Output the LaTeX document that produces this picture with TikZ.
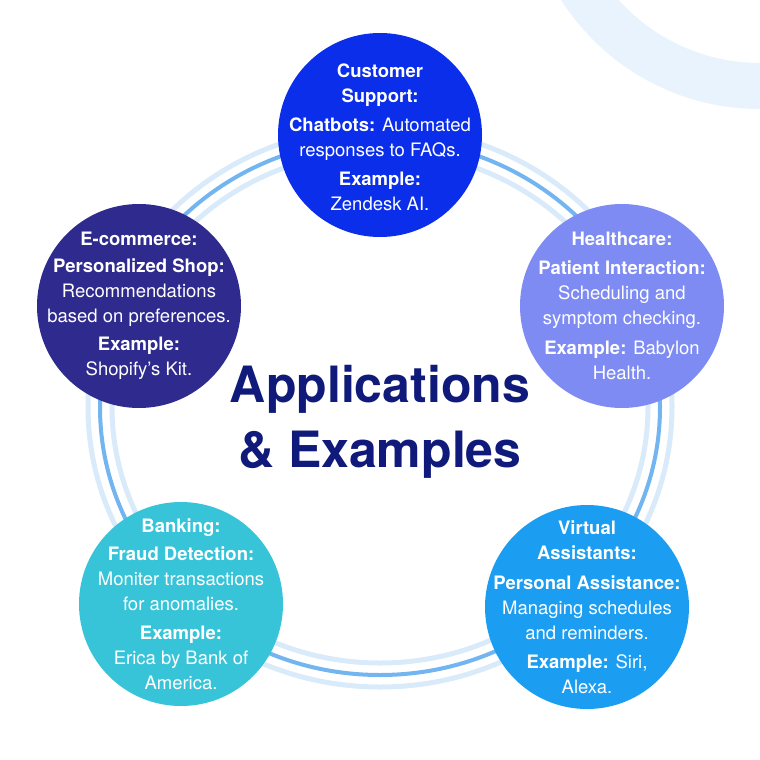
\documentclass[tikz,border=0pt]{standalone}
\usepackage{fontspec}
\setmainfont{TeX Gyre Heros}
\definecolor{cscol}{HTML}{0A2EEA}
\definecolor{eccol}{HTML}{2F2A8E}
\definecolor{hccol}{HTML}{7E8BF3}
\definecolor{bkcol}{HTML}{37C4D8}
\definecolor{vacol}{HTML}{1B9DF1}
\definecolor{titlecol}{HTML}{0F1A7A}
\definecolor{ringdark}{HTML}{72B5F1}
\definecolor{ringlight}{HTML}{D9EBFB}
\definecolor{decocol}{HTML}{E8F3FD}
\begin{document}
\begin{tikzpicture}[x=1pt,y=-1pt,
  bubble/.style={circle, minimum size=204pt, inner sep=0pt},
  btext/.style={text=white, align=center, inner sep=0pt, font=\fontsize{18.5}{25}\selectfont},
  lightring/.style={draw=ringlight, line width=5pt},
  darkring/.style={draw=ringdark, line width=4pt},
  titletext/.style={text=titlecol, align=center, inner sep=0pt, font=\bfseries\fontsize{50}{65}\selectfont}]
\fill[white] (0,0) rectangle (760,760);
\useasboundingbox (0,0) rectangle (760,760);
\begin{scope}
  \clip (0,0) rectangle (760,760);
  \draw[decocol, line width=46pt] (760,-127) circle[radius=213];
\end{scope}
% rings
\draw[lightring] (380,407) ellipse[x radius=292, y radius=280];
\draw[darkring] (380,407) ellipse[x radius=280, y radius=268];
\draw[lightring] (380,407) ellipse[x radius=268, y radius=256];
% title
\node[titletext] (title) at (380,422) {Applications\\\& Examples};
% bubbles
\node[bubble, fill=cscol] (cs) at (380,135) {};
\node[btext] (cstext) at (380,137) {\textbf{Customer}\\\textbf{Support:}\\[4pt]\textbf{Chatbots:} Automated\\responses to FAQs.\\[4pt]\textbf{Example:}\\Zendesk AI.};
\node[bubble, fill=eccol] (ec) at (139,306) {};
\node[btext] (ectext) at (ec) {\textbf{E-commerce:}\\[2pt]\textbf{Personalized Shop:}\\Recommendations\\based on preferences.\\[3pt]\textbf{Example:}\\Shopify's Kit.};
\node[bubble, fill=hccol] (hc) at (622,306) {};
\node[btext] (hctext) at (hc) {\textbf{Healthcare:}\\[4pt]\textbf{Patient Interaction:}\\Scheduling and\\symptom checking.\\[5pt]\textbf{Example:} Babylon\\Health.};
\node[bubble, fill=bkcol] (bk) at (181,604) {};
\node[btext] (bktext) at (bk) {\textbf{Banking:}\\[3pt]\textbf{Fraud Detection:}\\Moniter transactions\\for anomalies.\\[4pt]\textbf{Example:}\\Erica by Bank of\\America.};
\node[bubble, fill=vacol] (va) at (587,607) {};
\node[btext] (vatext) at (va) {\textbf{Virtual}\\\textbf{Assistants:}\\[5pt]\textbf{Personal Assistance:}\\Managing schedules\\and reminders.\\[4pt]\textbf{Example:} Siri,\\Alexa.};
\end{tikzpicture}
\end{document}
